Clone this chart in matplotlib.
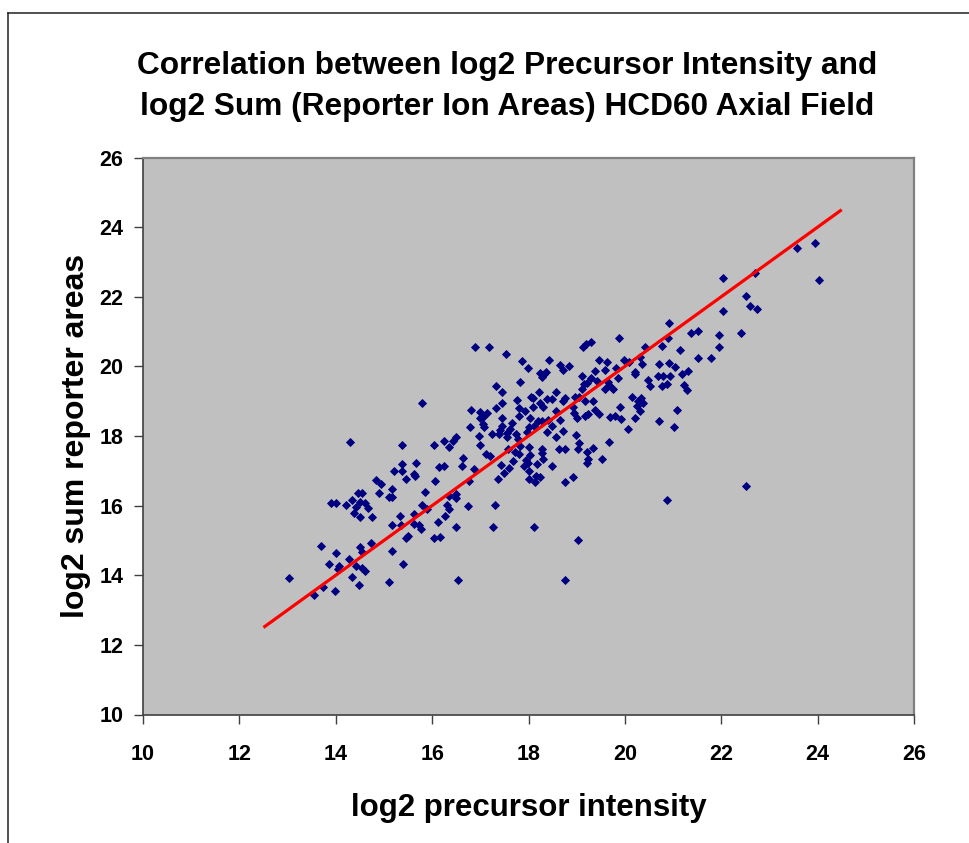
import matplotlib
matplotlib.use("Agg")
import matplotlib.pyplot as plt
from matplotlib.lines import Line2D

# ---- data ----
precursor_log2 = [
    14.30, 15.37, 15.37, 15.67, 15.20, 15.37, 15.62, 15.65, 15.46, 14.84, 14.94, 15.17, 14.90, 15.86, 14.47, 14.54,
    15.11, 15.17, 13.90, 14.00, 14.34, 14.21, 14.51, 14.41, 14.61, 14.67, 14.37, 14.50, 14.75, 15.80, 15.89, 15.63,
    15.34, 15.17, 15.35, 15.62, 15.72, 15.77, 15.50, 15.46, 13.69, 14.50, 14.74, 14.54, 14.01, 14.27, 15.17, 13.85,
    14.07, 14.05, 14.41, 14.55, 14.61, 15.40, 14.34, 13.02, 15.10, 14.48, 13.74, 13.98, 13.55,
    16.90, 17.17, 17.53, 17.86, 17.98, 18.42, 18.65, 18.85, 18.71, 18.23, 18.32, 18.37, 18.27, 17.82, 17.33, 17.46,
    15.80, 18.22, 18.58, 18.06, 18.10, 18.38, 18.49, 18.76, 18.71, 17.76, 17.46, 18.24, 18.31, 18.10, 17.80, 17.33,
    16.80, 17.00, 17.13, 17.93, 18.58, 18.94, 19.00, 16.99, 17.06, 17.46, 17.80, 18.03, 18.20, 18.29, 18.40, 18.65,
    17.66, 17.05, 16.79, 17.45, 18.00, 18.12, 18.48, 17.62, 17.40, 17.08, 17.24, 17.38, 17.55, 17.75, 17.97, 18.39,
    18.72, 18.98, 16.97, 17.56, 17.78, 18.58, 16.24, 16.44, 16.50, 16.03, 16.34, 17.00, 17.83, 18.00, 17.57, 17.73,
    18.27, 18.63, 18.76, 19.02, 17.11, 17.20, 17.81, 18.03, 18.27, 16.65, 17.68, 17.95, 17.98, 18.31, 17.42, 18.18,
    16.61, 16.14, 16.25, 16.86, 17.59, 17.90, 18.49, 17.50, 18.02, 18.24, 18.16, 18.02, 18.13, 17.36, 16.76, 16.06,
    18.93, 18.75, 16.34, 16.50,
    16.30, 16.34, 16.50, 16.74, 17.30, 16.27, 16.13, 16.50, 17.26, 18.12, 19.03, 16.03, 16.17, 16.53, 18.75,
    20.92, 22.04, 19.88, 21.37, 21.51, 21.95, 21.95, 19.13, 19.19, 19.29, 20.42, 20.78, 20.89, 21.14, 21.51, 21.78,
    19.46, 19.62, 19.98, 20.08, 20.31, 20.35, 20.71, 20.92, 21.05, 19.82, 19.59, 19.39, 20.22, 20.22, 21.18, 21.32,
    20.68, 20.79, 20.94, 19.12, 19.29, 19.42, 19.86, 19.64, 20.48, 20.52, 20.78, 20.87, 21.23, 21.28, 19.16, 19.22,
    19.12, 19.59, 19.68, 19.75, 18.96, 19.05, 19.18, 19.34, 20.15, 20.33, 20.28, 20.37, 20.25, 19.90, 20.31, 19.38,
    19.46, 18.92, 19.17, 19.23, 19.69, 19.79, 19.92, 20.22, 20.71, 21.08, 21.01, 20.06, 19.68, 19.05, 19.34, 19.22,
    19.24, 19.22, 19.52, 20.88,
    23.94, 23.58, 24.03, 22.70, 22.04, 22.51, 22.60, 22.74, 22.41, 22.51,
]
reporter_sum_log2 = [
    17.83, 17.74, 17.20, 17.23, 17.00, 17.00, 16.90, 16.86, 16.76, 16.74, 16.63, 16.49, 16.36, 16.40, 16.36, 16.36,
    16.26, 16.26, 16.08, 16.08, 16.17, 16.03, 16.10, 15.97, 16.08, 15.92, 15.80, 15.66, 15.66, 16.03, 15.89, 15.75,
    15.71, 15.43, 15.43, 15.48, 15.43, 15.33, 15.12, 15.07, 14.85, 14.80, 14.92, 14.66, 14.65, 14.47, 14.70, 14.32,
    14.27, 14.18, 14.27, 14.20, 14.13, 14.33, 13.96, 13.91, 13.81, 13.73, 13.67, 13.54, 13.43,
    20.56, 20.56, 20.36, 20.15, 19.95, 20.18, 20.05, 20.01, 19.90, 19.82, 19.78, 19.84, 19.69, 19.54, 19.44, 19.25,
    18.94, 19.25, 19.25, 19.13, 19.09, 19.06, 19.07, 19.10, 19.01, 19.03, 18.95, 18.94, 18.82, 18.84, 18.80, 18.80,
    18.75, 18.70, 18.66, 18.71, 18.72, 18.65, 18.51, 18.51, 18.55, 18.52, 18.57, 18.52, 18.43, 18.44, 18.46, 18.46,
    18.38, 18.34, 18.27, 18.30, 18.27, 18.29, 18.30, 18.19, 18.17, 18.25, 18.06, 18.05, 18.09, 18.07, 18.11, 18.11,
    18.14, 18.02, 18.01, 17.96, 17.92, 17.96, 17.86, 17.86, 17.97, 17.74, 17.69, 17.73, 17.72, 17.67, 17.63, 17.55,
    17.62, 17.62, 17.62, 17.63, 17.47, 17.43, 17.47, 17.45, 17.50, 17.38, 17.29, 17.31, 17.22, 17.35, 17.18, 17.20,
    17.14, 17.11, 17.15, 17.06, 17.09, 17.14, 17.14, 16.95, 17.00, 16.83, 16.85, 16.76, 16.69, 16.76, 16.72, 16.72,
    16.82, 16.67, 16.28, 16.32,
    16.03, 15.89, 16.21, 15.99, 16.03, 15.71, 15.52, 15.39, 15.39, 15.39, 15.01, 15.06, 15.11, 13.86, 13.86,
    21.24, 21.59, 20.82, 20.97, 21.01, 20.91, 20.56, 20.56, 20.63, 20.70, 20.56, 20.58, 20.81, 20.46, 20.23, 20.23,
    20.18, 20.13, 20.18, 20.12, 20.28, 20.06, 20.06, 20.11, 19.99, 19.96, 19.90, 19.86, 19.85, 19.78, 19.77, 19.86,
    19.72, 19.72, 19.71, 19.73, 19.67, 19.58, 19.66, 19.56, 19.60, 19.44, 19.43, 19.50, 19.46, 19.31, 19.49, 19.53,
    19.36, 19.34, 19.47, 19.35, 19.11, 19.13, 19.00, 19.00, 19.11, 19.10, 19.00, 18.94, 18.87, 18.84, 18.71, 18.75,
    18.63, 18.84, 18.57, 18.63, 18.54, 18.57, 18.48, 18.53, 18.43, 18.76, 18.26, 18.21, 17.83, 17.81, 17.66, 17.55,
    17.33, 17.22, 17.33, 16.16,
    23.55, 23.40, 22.49, 22.67, 22.54, 22.02, 21.74, 21.65, 20.96, 16.57,
]
trend_x = [12.5, 24.5]
trend_y = [12.5, 24.5]
x_ticks = [10, 12, 14, 16, 18, 20, 22, 24, 26]
y_ticks = [10, 12, 14, 16, 18, 20, 22, 24, 26]
title_lines = ["Correlation between log2 Precursor Intensity and",
               "log2 Sum (Reporter Ion Areas) HCD60 Axial Field"]
x_label = "log2 precursor intensity"
y_label = "log2 sum reporter areas"

# ---- figure ----
plt.rcParams['font.family'] = ['Liberation Sans', 'DejaVu Sans']
W, H = 970, 843
fig = plt.figure(figsize=(W / 100, H / 100), dpi=100)
fig.patch.set_facecolor('white')

# chart-area border (left and top edges visible)
fig.add_artist(Line2D([8.5 / W, 8.5 / W], [0, 1 - 12.5 / H], transform=fig.transFigure,
                      color='#202020', lw=1.1))
fig.add_artist(Line2D([8.5 / W, 1], [1 - 12.5 / H, 1 - 12.5 / H], transform=fig.transFigure,
                      color='#202020', lw=1.1))

ax = fig.add_axes([143 / W, 1 - 714.5 / H, (914 - 143) / W, (714.5 - 157.5) / H])
ax.set_facecolor('#c0c0c0')
ax.plot(precursor_log2, reporter_sum_log2, linestyle='none', marker='D', ms=4.2,
        mfc='#000080', mec='#000080', mew=0.6, zorder=3)
ax.plot(trend_x, trend_y, color='#ff0000', lw=2.3, zorder=4, solid_capstyle='butt')

ax.set_xlim(10, 26)
ax.set_ylim(10, 26)
ax.set_xticks(x_ticks)
ax.set_yticks(y_ticks)
ax.set_xticklabels([str(t) for t in x_ticks], fontsize=15.5, fontweight='bold')
ax.set_yticklabels([str(t) for t in y_ticks], fontsize=15.5, fontweight='bold')
ax.tick_params(axis='x', direction='out', length=6.5, width=1, color='#404040', pad=15)
ax.tick_params(axis='y', direction='out', length=6.5, width=1, color='#404040', pad=7.5)

for s in ['left', 'bottom']:
    ax.spines[s].set_color('#404040')
    ax.spines[s].set_linewidth(1.2)
for s in ['top', 'right']:
    ax.spines[s].set_color('#808080')
    ax.spines[s].set_linewidth(1.6)

fig.text(507.5 / W, 1 - 74 / H, title_lines[0], ha='center', va='baseline',
         fontsize=22.8, fontweight='bold')
fig.text(507.5 / W, 1 - 115 / H, title_lines[1], ha='center', va='baseline',
         fontsize=22.8, fontweight='bold')
fig.text(528.5 / W, 1 - 815.7 / H, x_label, ha='center', va='baseline',
         fontsize=22.5, fontweight='bold')
fig.text(76 / W, 1 - 436 / H, y_label, ha='center', va='center', rotation=90,
         fontsize=23, fontweight='bold')

fig.savefig("out.png", dpi=100)
